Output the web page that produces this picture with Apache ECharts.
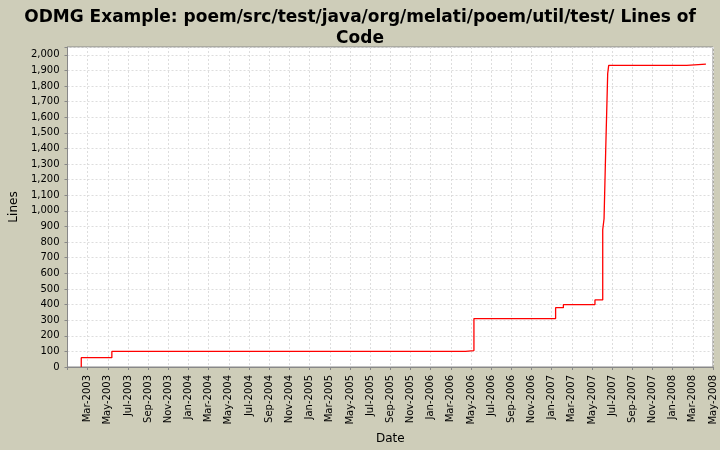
<!DOCTYPE html>
<html><head><meta charset="utf-8">
<script src="https://cdn.jsdelivr.net/npm/echarts@6/dist/echarts.min.js"></script>
<style>html,body{margin:0;padding:0;background:#cecdb9}#c{width:720px;height:450px}</style>
</head><body><div id="c"></div>
<script>
const dates = ["2003-02-12","2003-05-13","2006-04-15","2006-05-10","2007-01-13","2007-02-06","2007-05-10","2007-06-03","2007-06-07","2007-06-12","2007-06-18","2007-06-21","2008-02-13","2008-04-10"];
const lines = [60,100,105,310,380,400,430,880,950,1390,1880,1932,1940,1940];
const monthNames = ["Jan","Feb","Mar","Apr","May","Jun","Jul","Aug","Sep","Oct","Nov","Dec"];
function toMonths(s){const [y,m,d]=s.split('-').map(Number);return (y-2003)*12+(m-1)+(d-1)/30.4;}
const data=[[toMonths(dates[0]),0]].concat(dates.map((d,i)=>[toMonths(d),lines[i]]));
const chart=echarts.init(document.getElementById('c'));
chart.setOption({
 backgroundColor:'#cecdb9',
 title:{text:'ODMG Example: poem/src/test/java/org/melati/poem/util/test/ Lines of\nCode',left:'center',top:2,textStyle:{fontSize:17,fontWeight:'bold',color:'#000',fontFamily:'DejaVu Sans',lineHeight:21}},
 grid:{left:62,right:7,top:47,bottom:78,backgroundColor:'#fff',show:true,borderColor:'#888',borderWidth:1},
 xAxis:{type:'value',min:0,max:64,interval:2,name:'Date',nameLocation:'middle',nameGap:66,
  nameTextStyle:{fontSize:12,color:'#000',fontFamily:'DejaVu Sans'},
  axisLine:{lineStyle:{color:'#888'}},axisTick:{length:3,lineStyle:{color:'#888'}},
  axisLabel:{rotate:90,fontSize:10,color:'#000',fontFamily:'DejaVu Sans',formatter:v=>v===0?'':monthNames[v%12]+'-'+(2003+Math.floor(v/12))},
  splitLine:{lineStyle:{type:[2,2],color:'#ddd'}}},
 yAxis:{type:'value',min:0,max:2050,interval:100,name:'Lines',nameLocation:'middle',nameGap:42,
  nameTextStyle:{fontSize:12,color:'#000',fontFamily:'DejaVu Sans'},
  axisLine:{show:true,lineStyle:{color:'#888'}},axisTick:{show:true,length:3,lineStyle:{color:'#888'}},
  axisLabel:{fontSize:10,color:'#000',fontFamily:'DejaVu Sans',formatter:v=>v>2000?'':v.toLocaleString('en-US')},
  splitLine:{lineStyle:{type:[2,2],color:'#ddd'}}},
 series:[{type:'line',step:'end',data:data,symbol:'none',lineStyle:{color:'#f00',width:1.3},animation:false}]
});
</script></body></html>
